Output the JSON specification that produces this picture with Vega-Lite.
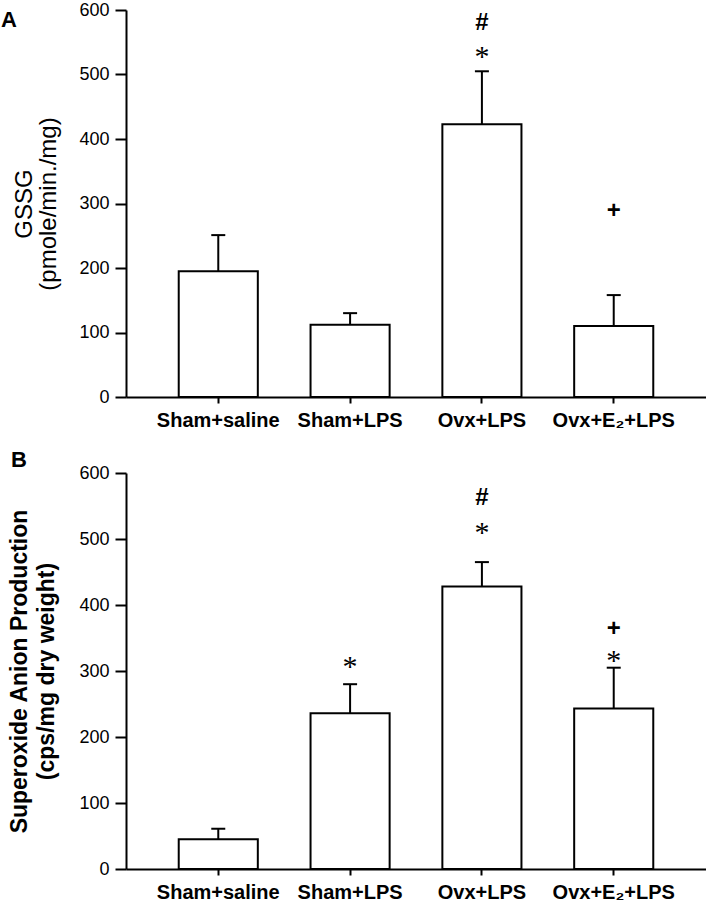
{
  "$schema": "https://vega.github.io/schema/vega-lite/v6.json",
  "autosize": {"type": "pad"},
  "padding": {"left": 0, "top": 1, "right": 0, "bottom": 0},
  "background": "white",
  "bounds": "flush",
  "spacing": 76,
  "datasets": {
    "gssg": [
      {"group": "Sham+saline", "mean": 195, "upper": 251},
      {"group": "Sham+LPS", "mean": 112, "upper": 130},
      {"group": "Ovx+LPS", "mean": 423, "upper": 505},
      {"group": "Ovx+E₂+LPS", "mean": 110, "upper": 158}
    ],
    "gssg_marks": [
      {"group": "Ovx+LPS", "pos": 583, "symbol": "#"},
      {"group": "Ovx+LPS", "pos": 535, "symbol": "*"},
      {"group": "Ovx+E₂+LPS", "pos": 291, "symbol": "+"}
    ],
    "superoxide": [
      {"group": "Sham+saline", "mean": 45, "upper": 61},
      {"group": "Sham+LPS", "mean": 236, "upper": 280},
      {"group": "Ovx+LPS", "mean": 428, "upper": 465},
      {"group": "Ovx+E₂+LPS", "mean": 243, "upper": 305}
    ],
    "superoxide_marks": [
      {"group": "Sham+LPS", "pos": 314, "symbol": "*"},
      {"group": "Ovx+LPS", "pos": 565, "symbol": "#"},
      {"group": "Ovx+LPS", "pos": 517, "symbol": "*"},
      {"group": "Ovx+E₂+LPS", "pos": 367, "symbol": "+"},
      {"group": "Ovx+E₂+LPS", "pos": 322, "symbol": "*"}
    ]
  },
  "vconcat": [
    {
      "width": 580,
      "height": 387,
      "title": {"text": "A", "anchor": "start", "frame": "bounds", "orient": "top", "offset": -31, "dx": -12, "fontSize": 22, "fontWeight": "bold", "font": "Liberation Sans", "color": "black"},
      "encoding": {
        "x": {"field": "group", "type": "nominal", "sort": ["Sham+saline", "Sham+LPS", "Ovx+LPS", "Ovx+E₂+LPS"],
          "scale": {"paddingInner": 0.4, "paddingOuter": 0.4},
          "axis": {"title": null, "labelAngle": 0, "tickSize": 6, "labelFontSize": 20, "labelFontWeight": "bold", "labelPadding": 7}}
      },
      "layer": [
        {
          "data": {"name": "gssg"},
          "mark": {"type": "bar", "fill": "white", "stroke": "black", "strokeWidth": 2},
          "encoding": {
            "y": {"field": "mean", "type": "quantitative", "scale": {"domain": [0, 600], "nice": false},
              "axis": {"values": [0, 100, 200, 300, 400, 500, 600], "tickSize": 11, "labelFontSize": 18, "labelPadding": 6,
                "title": ["GSSG", "(pmole/min./mg)"], "titleFontSize": 24, "titleFontWeight": "normal", "titleLineHeight": 24, "titlePadding": 18}}
          }
        },
        {
          "data": {"name": "gssg"},
          "mark": {"type": "rule", "color": "black", "strokeWidth": 2},
          "encoding": {"y": {"field": "mean", "type": "quantitative"}, "y2": {"field": "upper"}}
        },
        {
          "data": {"name": "gssg"},
          "mark": {"type": "tick", "color": "black", "size": 14, "thickness": 2, "opacity": 1},
          "encoding": {"y": {"field": "upper", "type": "quantitative"}}
        },
        {
          "data": {"name": "gssg_marks"},
          "transform": [{"filter": "datum.symbol === '*'"}],
          "mark": {"type": "text", "font": "Liberation Serif", "fontSize": 30, "baseline": "alphabetic", "dy": 14, "color": "black"},
          "encoding": {"y": {"field": "pos", "type": "quantitative"}, "text": {"field": "symbol"}}
        },
        {
          "data": {"name": "gssg_marks"},
          "transform": [{"filter": "datum.symbol !== '*'"}],
          "mark": {"type": "text", "font": "Liberation Sans", "fontSize": 24, "fontWeight": "bold", "baseline": "alphabetic", "dy": 9, "color": "black"},
          "encoding": {"y": {"field": "pos", "type": "quantitative"}, "text": {"field": "symbol"}}
        }
      ]
    },
    {
      "width": 580,
      "height": 396,
      "title": {"text": "B", "anchor": "start", "frame": "bounds", "orient": "top", "offset": -8, "dx": 2, "fontSize": 22, "fontWeight": "bold", "font": "Liberation Sans", "color": "black"},
      "encoding": {
        "x": {"field": "group", "type": "nominal", "sort": ["Sham+saline", "Sham+LPS", "Ovx+LPS", "Ovx+E₂+LPS"],
          "scale": {"paddingInner": 0.4, "paddingOuter": 0.4},
          "axis": {"title": null, "labelAngle": 0, "tickSize": 6, "labelFontSize": 20, "labelFontWeight": "bold", "labelPadding": 7}}
      },
      "layer": [
        {
          "data": {"name": "superoxide"},
          "mark": {"type": "bar", "fill": "white", "stroke": "black", "strokeWidth": 2},
          "encoding": {
            "y": {"field": "mean", "type": "quantitative", "scale": {"domain": [0, 600], "nice": false},
              "axis": {"values": [0, 100, 200, 300, 400, 500, 600], "tickSize": 11, "labelFontSize": 18, "labelPadding": 6,
                "title": ["Superoxide Anion Production", "(cps/mg dry weight)"], "titleFontSize": 23, "titleFontWeight": "bold", "titleLineHeight": 27, "titlePadding": 20}}
          }
        },
        {
          "data": {"name": "superoxide"},
          "mark": {"type": "rule", "color": "black", "strokeWidth": 2},
          "encoding": {"y": {"field": "mean", "type": "quantitative"}, "y2": {"field": "upper"}}
        },
        {
          "data": {"name": "superoxide"},
          "mark": {"type": "tick", "color": "black", "size": 14, "thickness": 2, "opacity": 1},
          "encoding": {"y": {"field": "upper", "type": "quantitative"}}
        },
        {
          "data": {"name": "superoxide_marks"},
          "transform": [{"filter": "datum.symbol === '*'"}],
          "mark": {"type": "text", "font": "Liberation Serif", "fontSize": 30, "baseline": "alphabetic", "dy": 14, "color": "black"},
          "encoding": {"y": {"field": "pos", "type": "quantitative"}, "text": {"field": "symbol"}}
        },
        {
          "data": {"name": "superoxide_marks"},
          "transform": [{"filter": "datum.symbol !== '*'"}],
          "mark": {"type": "text", "font": "Liberation Sans", "fontSize": 24, "fontWeight": "bold", "baseline": "alphabetic", "dy": 9, "color": "black"},
          "encoding": {"y": {"field": "pos", "type": "quantitative"}, "text": {"field": "symbol"}}
        }
      ]
    }
  ],
  "config": {
    "font": "Liberation Sans",
    "view": {"stroke": null},
    "axis": {"domainColor": "black", "domainWidth": 2, "tickColor": "black", "tickWidth": 2, "labelColor": "black", "titleColor": "black", "grid": false, "labelFont": "Liberation Sans", "titleFont": "Liberation Sans"}
  }
}
